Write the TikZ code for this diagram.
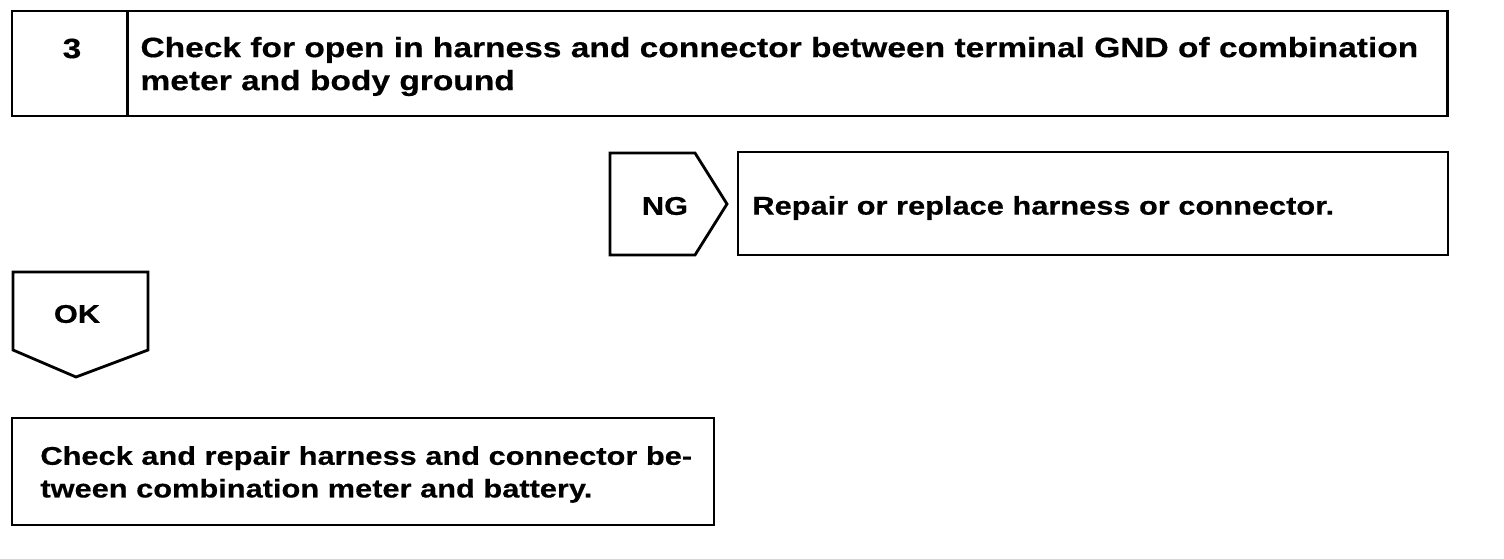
\documentclass[tikz,border=0pt]{standalone}
\usepackage{fontspec}
\setmainfont{Liberation Sans}[FakeStretch=1.2, BoldFeatures={FakeBold=0.4}]
\usepackage{tikz}
\usetikzlibrary{positioning}
\usepackage{xcolor}

\begin{document}
\begin{tikzpicture}[x=0.02cm, y=-0.02cm]
      \tikzstyle{box} = [rectangle, draw, line width=1.6pt, inner sep=0pt, outer sep=0pt]
      \tikzstyle{txt} = [font=\bfseries\fontsize{14.6}{18.6}\selectfont, align=left, inner sep=0pt]
      \tikzstyle{head} = [font=\bfseries\fontsize{15.9}{18.8}\selectfont, align=left, inner sep=0pt]

      \useasboundingbox (0,0) rectangle (1504,558);

      % step header
      \node[box, minimum width=2.3cm, minimum height=2.1cm] (num) at (69.5,63.5) {};
      \node[box, minimum width=26.42cm, minimum height=2.1cm] (title) at (787.5,63.5) {};
      \node[head] (numtxt) at ([xshift=0.05cm, yshift=0.3cm]num.center) {3};
      \node[head, anchor=west] (titletxt) at ([xshift=0.26cm, yshift=-0.06cm]title.west)
            {Check for open in harness and connector between terminal GND of combination\\meter and body ground};

      % NG branch
      \node[txt] (ng) at (665,206) {NG};
      \draw[line width=1.6pt, line join=miter] (610,153) -- (695,153) -- (727,204) -- (695,255) -- (610,255) -- cycle;
      \node[box, minimum width=14.2cm, minimum height=2.06cm] (repair) at (1093,203.5) {};
      \node[txt, anchor=west] (repairtxt) at ([xshift=0.28cm, yshift=-0.09cm]repair.west) {Repair or replace harness or connector.};

      % OK branch
      \node[txt] (ok) at (77,314) {OK};
      \draw[line width=1.6pt, line join=miter] (13,272) -- (148,272) -- (148,350) -- (76,377) -- (13,350) -- cycle;
      \node[box, minimum width=14.04cm, minimum height=2.14cm] (check) at (363,471.5) {};
      \node[txt, anchor=west] (checktxt) at ([xshift=0.56cm, yshift=-0.06cm]check.west)
            {Check and repair harness and connector be-\\tween combination meter and battery.};
    \end{tikzpicture}
\end{document}
